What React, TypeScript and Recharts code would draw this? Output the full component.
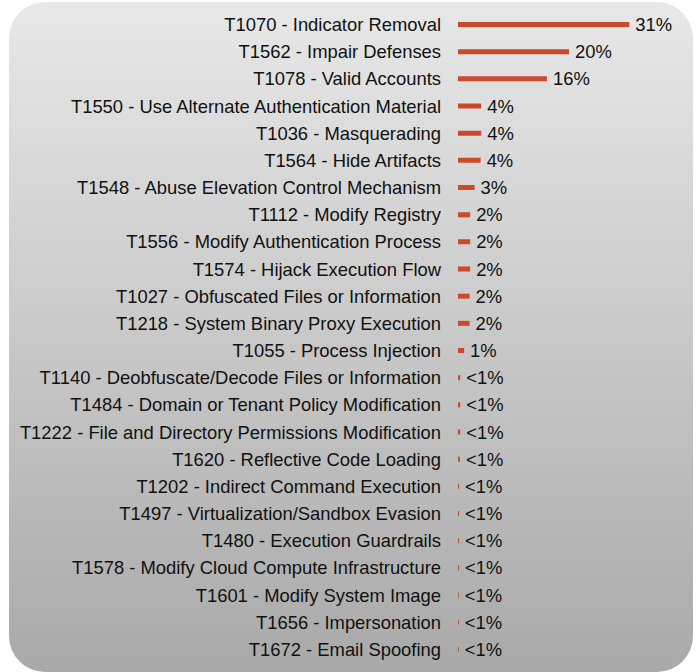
import React from "react";
import { BarChart, Bar, XAxis, YAxis, LabelList } from "recharts";

const techniques = [
  "T1070 - Indicator Removal",
  "T1562 - Impair Defenses",
  "T1078 - Valid Accounts",
  "T1550 - Use Alternate Authentication Material",
  "T1036 - Masquerading",
  "T1564 - Hide Artifacts",
  "T1548 - Abuse Elevation Control Mechanism",
  "T1112 - Modify Registry",
  "T1556 - Modify Authentication Process",
  "T1574 - Hijack Execution Flow",
  "T1027 - Obfuscated Files or Information",
  "T1218 - System Binary Proxy Execution",
  "T1055 - Process Injection",
  "T1140 - Deobfuscate/Decode Files or Information",
  "T1484 - Domain or Tenant Policy Modification",
  "T1222 - File and Directory Permissions Modification",
  "T1620 - Reflective Code Loading",
  "T1202 - Indirect Command Execution",
  "T1497 - Virtualization/Sandbox Evasion",
  "T1480 - Execution Guardrails",
  "T1578 - Modify Cloud Compute Infrastructure",
  "T1601 - Modify System Image",
  "T1656 - Impersonation",
  "T1672 - Email Spoofing",
];

const shares = [
  31.0, 20.1, 16.1, 4.2, 4.2, 4.1, 3.0, 2.2, 2.2, 2.2, 2.1, 2.1, 1.1, 0.4, 0.4, 0.4,
  0.35, 0.2, 0.2, 0.2, 0.2, 0.15, 0.15, 0.15,
];

const shareLabels = [
  "31%", "20%", "16%", "4%", "4%", "4%", "3%", "2%", "2%", "2%", "2%", "2%", "1%",
  "<1%", "<1%", "<1%", "<1%", "<1%", "<1%", "<1%", "<1%", "<1%", "<1%", "<1%",
];

const data = techniques.map((name, i) => ({ name, value: shares[i], label: shareLabels[i] }));

const FONT = "'Liberation Sans', Arial, Helvetica, sans-serif";

export default function App() {
  return (
    <div
      style={{
        position: "absolute",
        left: 9,
        top: 2,
        width: 684,
        height: 670,
        borderRadius: 36,
        background: "linear-gradient(to bottom, #e8e8e8 0%, #a9a9a9 100%)",
        overflow: "hidden",
        fontFamily: FONT,
      }}
    >
      <BarChart
        layout="vertical"
        width={684}
        height={670}
        data={data}
        margin={{ top: 9, right: 14, bottom: 9, left: 0 }}
        barCategoryGap={0}
      >
        <XAxis type="number" domain={[0, 40]} hide />
        <YAxis
          type="category"
          dataKey="name"
          width={449}
          tickLine={false}
          axisLine={false}
          tickSize={0}
          tickMargin={17}
          interval={0}
          tick={{ fill: "#111111", fontSize: 18.4, fontFamily: FONT }}
        />
        <Bar dataKey="value" fill="#cb4a29" barSize={5} isAnimationActive={false}>
          <LabelList
            dataKey="label"
            position="right"
            offset={6}
            fill="#111111"
            fontSize={18.4}
            fontFamily={FONT}
          />
        </Bar>
      </BarChart>
    </div>
  );
}
